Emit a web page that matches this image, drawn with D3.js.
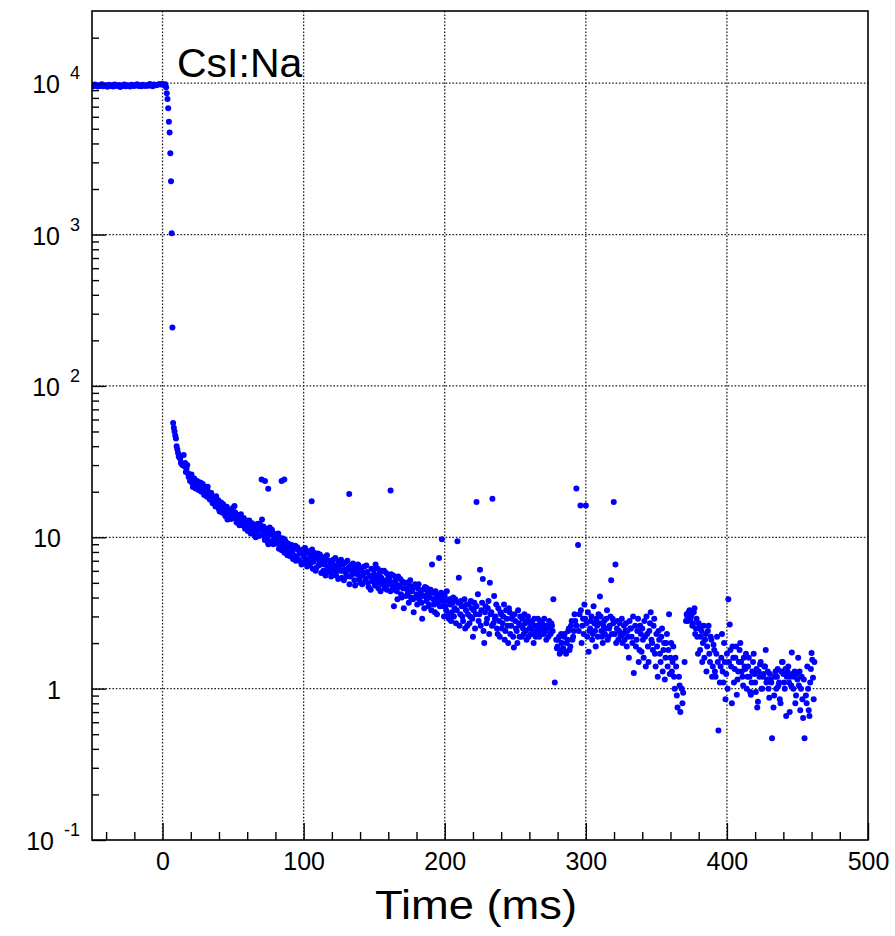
<!DOCTYPE html>
<html>
<head>
<meta charset="utf-8">
<script src="https://cdn.jsdelivr.net/npm/d3@7"></script>
<style>
    body { margin: 0; background: #fff; }
    #chart-area { width: 895px; height: 936px; }
    text { font-family: "Liberation Sans", Arial, sans-serif; }
</style>
</head>
<body>
<div id="chart-area"></div>
<script>

// --- data: [time (ms), counts] ---
let plateauPoints = [[-50,9700],[-49,9550],[-48,9800],[-47,9650],[-46,9500],[-45,9750],[-44,9600],[-43,9850],[-42,9550],[-41,9700],
    [-40,9620],[-39,9480],[-38,9780],[-37,9600],[-36,9700],[-35,9520],[-34,9820],[-33,9650],[-32,9580],[-31,9720],
    [-30,9450],[-29,9680],[-28,9600],[-27,9800],[-26,9550],[-25,9700],[-24,9620],[-23,9500],[-22,9760],[-21,9650],
    [-20,9580],[-19,9720],[-18,9850],[-17,9600],[-16,9700],[-15,9550],[-14,9780],[-13,9660],[-12,9590],[-11,9740],
    [-10,9620],[-9,9880],[-8,9700],[-7,9560],[-6,9800],[-5,9680],[-4,9750],[-3,9800],[-2,9900],[-1,9820],
    [0,9900],[1,9750],[2,9850]];

let dropPoints = [[2.5,9400],[3,8570],[3.5,7860],[4,6830],[4.5,5560],[5,4730],[5.5,3440],[6,2250],[6.5,1020],[7,243]];

let tailPoints = [[7.5,57],[8,53],[8.5,50],[9,47],[9.5,45],[10,40],[10.5,38],[11,36],[11.5,34],[12,34.5],
    [12.5,33],[13,31],[14,30],[15,35],[15.5,29.5],[16,31],[17,28.5],[18,26.5],[19,26],[19.5,23.5],
    [20,24.5],[21,22.8],[22,22.3],[23,23],[24,21.8],[25,22.3],[26,21.5],[27,22.9],[28,20.7],[29,21.2],
    [30,20.2],[31,19.2],[32,21.6],[33,19],[34,18.7],[35,17.8],[36,17.3],[37,18.3],[38,18.7],[38.5,16.5],
    [39,16.9],[40,15.3],[41,16.1],[42,15.3],[43,16.5],[44,15.7],[45,14.9],[46,13.1],[46.5,14.2],[47,13.5],
    [48,14.6],[49,14.2],[50,15.7],[51,16.1],[52,13.5],[53,12.8],[54,12.5],[55,13.5],[56,12.5],[57,12.2],
    [58,12.8],[59,11.6],[60,11.8],[61,12.5],[62,11.3],[63,12.2],[64,11.6],[65,11.3],[66,10],[67,11],
    [68,11.6],[69,12.2],[70,11.3],[70.5,13.1],[71,10.7],[72,10.2],[73,11.4],[74,10],[75,9],[76,11.6],
    [77,10.4],[78,10.8],[79,9.7],[80,10.2],[81,9.4],[82,10.6],[83,8.9],[84,9.8],[85,9.2],[86,8.7],
    [87,9.5],[88,8.4],[89,9.1],[90,7.9],[91,8.6],[92,8.1],[93,7.6],[94,8.8],[95,7.4],[96,8.3],
    [97,7.8],[98,6.9],[99,8.0],[100,7.5],[101,8.5],[102,7.2],[103,7.9],[104,6.8],[105,7.6],[106,8.3],
    [107,6.9],[108,7.3],[109,6.3],[110,7.8],[111,7.0],[112,6.6],[113,7.4],[114,6.0],[115,6.9],[116,7.2],
    [117,6.4],[118,5.9],[119,6.8],[120,6.2],[121,7.1],[122,6.5],[123,5.6],[124,6.3],[125,6.9],[126,6.0],
    [127,5.4],[128,6.6],[129,6.1],[130,5.8],[131,7.0],[132,6.3],[133,5.5],[134,6.0],[135,6.7],[136,5.2],
    [137,6.2],[138,5.7],[139,6.5],[140,5.0],[141,6.0],[142,5.6],[143,6.4],[144,5.3],[145,5.9],[146,4.7],
    [147,5.6],[148,6.2],[149,5.1],[150,5.7],[151,6.6],[152,5.2],[153,4.6],[154,5.8],[155,5.4],[156,4.9],
    [157,6.0],[158,5.1],[159,4.5],[160,5.5],[161,5.0],[162,5.7],[163,4.7],[164,3.5],[165,5.2],[166,4.4],
    [167,5.5],[168,4.8],[169,4.2],[170,5.1],[171,3.4],[172,4.6],[173,5.0],[174,4.3],[175,4.8],[176,4.0],
    [177,4.5],[178,3.2],[179,4.9],[180,4.2],[181,4.6],[182,3.9],[183,4.4],[184,2.9],[185,4.1],[186,4.7],
    [187,3.8],[188,4.3],[189,3.6],[190,4.5],[191,6.6],[192,3.9],[193,3.2],[194,4.2],[195,3.7],[196,7.3],
    [197,4.0],[198,9.7],[199,3.5],[200,4.1],[201,3.3],[202,3.8],[203,2.9],[204,3.6],[205,3.2],[206,4.0],
    [207,3.4],[208,2.7],[209,9.4],[209.5,3.7],[210,5.4],[211,3.1],[212,3.5],[213,2.8],[214,3.9],[215,3.3],
    [216,2.6],[217,3.6],[218,3.0],[219,3.4],[220,2.2],[221,3.7],[222,3.1],[223.5,4.2],[224,2.8],[225,6.1],
    [226,3.3],[227,5.3],[228,2.0],[229,3.5],[230,2.9],[231,3.8],[232,5.0],[233,3.2],[234.5,2.7],[235,4.1],
    [236,3.0],[237,2.5],[238,3.4],[239,2.2],[240,3.1],[241,2.7],[242,3.6],[243,2.4],[244,2.9],[245,2.0],
    [246,3.2],[247,2.6],[248,3.0],[249,1.87],[250,2.8],[251,2.4],[252,3.3],[253,2.2],[254,2.6],[255,2.9],
    [256,2.3],[257,2.7],[258,2.1],[259,3.0],[260,2.5],[261,2.3],[262,2.8],[263,2.0],[264,2.6],[265,2.4],
    [266,2.9],[267,2.2],[268,2.5],[269,2.7],[270,2.3],[271,2.6],[272,2.1],[273,2.5],[274,2.8],[275,2.3],
    [276,2.6],[277,3.9],[278,1.1],[279,2.1],[280,1.9],[281,2.2],[282,1.75],[283,2.0],[284,1.85],[285,2.3],
    [286,1.7],[287,2.1],[288,2.5],[289,1.9],[290,2.8],[291,2.2],[292,3.1],[293.5,2.6],[295,2.4],[296.5,3.3],
    [297,2.0],[298,2.9],[299,3.6],[300.5,2.7],[301,2.2],[302,1.75],[303,2.5],[304,3.0],[305,2.3],[306,2.7],
    [307,1.9],[308,2.6],[309,3.1],[310,4.07],[311,2.4],[312,2.0],[313,2.8],[314,2.5],[315,3.3],[316,2.2],
    [317,2.6],[318,5.2],[319,2.9],[320.5,2.3],[321,6.6],[322,2.5],[323,2.1],[324,2.7],[325,2.3],[326,2.0],
    [327,2.6],[328,2.4],[329,1.9],[330,2.2],[331,2.8],[332,2.5],[333,2.0],[334,1.27],[335,2.6],[336,2.1],
    [337,2.9],[338,1.8],[339,2.3],[340,2.5],[341,1.6],[342,2.2],[343,3.0],[344,1.9],[345,2.4],[346,3.2],
    [347,2.0],[348,2.6],[349,1.7],[350,2.3],[351,1.2],[352,2.1],[353,1.5],[354,2.5],[355,1.8],[356,1.15],
    [357,2.0],[358,1.4],[359,3.1],[360,1.6],[361,1.3],[362,1.9],[363,1.0],[364,1.4],[365,0.75],[366,1.2],
    [367,0.70],[368,1.0],[369,0.94],[370,1.5],[371,2.8],[372,3.0],[373,3.2],[374,2.9],[375,3.1],[376,2.7],
    [377,3.4],[378,2.5],[379,2.2],[380,2.7],[381,1.8],[382,2.4],[383,2.0],[384,1.6],[385,2.3],[386,1.9],
    [387,2.6],[388,1.5],[389,2.1],[390,1.4],[391,1.8],[392,1.2],[393,2.2],[394,0.53],[395,1.1],[396,1.6],
    [397,1.3],[398,2.0],[399,0.85],[400,1.7],[401,3.9],[402,2.65],[403,1.4],[404,1.9],[405,1.1],[406,1.6],
    [407,0.91],[408,1.3],[409,1.8],[410,1.5],[411,1.2],[412,1.6],[413,1.35],[414,1.0],[415,1.4],[416,1.2],
    [417,0.91],[418,1.3],[419,1.7],[420,1.1],[421,1.35],[422,0.82],[423,1.2],[424,1.5],[425,1.0],[426,1.25],
    [427,1.4],[428,1.1],[429,1.3],[430,0.87],[431,1.15],[432,0.47],[433,0.75],[434,1.2],[435,1.0],[436,1.35],
    [437,1.1],[438,0.8],[439,1.5],[440,1.25],[441,1.0],[442,0.66],[443,1.3],[444,1.1],[445,1.2],[446,1.73],
    [447,1.0],[448,1.3],[449,0.9],[450,1.15],[451,1.05],[452,0.72],[453,1.2],[454,0.64],[455,0.47],[456,0.9],
    [457,1.4],[458,0.72],[459,1.1],[460,1.72],[461,1.18],[462,1.5]];

// second pass over the band (the in-between bins), it is twice as dense as one row of dots
let tailPointsB = [[16.5,27],[17.5,30],[18.5,25],[20.5,26],[21.5,21.5],[22.5,24.5],[23.5,21],[24.5,23.5],[25.5,20.5],[26.5,23],
    [27.5,20],[28.5,22.5],[29.5,19],[30.5,21.5],[31.5,18.5],[32.5,20],[33.5,17.8],[34.5,19.6],[35.5,16.8],[36.5,18.5],
    [37.5,16],[39.5,17.6],[40.5,14.8],[41.5,17],[42.5,14.5],[43.5,15.9],[44.5,13.8],[45.5,15.9],[47.5,15.2],[48.5,13.2],
    [49.5,15],[50.5,13.4],[51.5,14.6],[52.5,12.5],[53.5,14],[54.5,12],[55.5,14.2],[56.5,12],[57.5,13.4],[58.5,11.4],
    [59.5,12.9],[60.5,11],[61.5,12.9],[62.5,10.6],[63.5,12.4],[64.5,10.5],[65.5,12],[66.5,10.3],[67.5,12.3],[68.5,10.2],
    [69.5,11.8],[71.5,11.8],[72.5,9.6],[73.5,10.9],[74.5,9.3],[75.5,10.8],[76.5,9.4],[77.5,11.2],[78.5,9.0],[79.5,10.5],
    [80.5,9.1],[81.5,10.3],[82.5,8.4],[83.5,9.9],[84.5,8.2],[85.5,9.8],[86.5,7.9],[87.5,9.0],[88.5,7.6],[89.5,8.8],
    [90.5,7.5],[91.5,8.9],[92.5,7.2],[93.5,8.4],[94.5,7.0],[95.5,8.6],[96.5,7.1],[97.5,8.2],[98.5,6.6],[99.5,8.3],
    [100.5,6.8],[101.5,7.9],[102.5,6.4],[103.5,8.1],[104.5,6.6],[105.5,7.2],[106.5,6.2],[107.5,7.9],[108.5,6.0],[109.5,7.4],
    [110.5,6.5],[111.5,7.7],[112.5,5.8],[113.5,6.9],[114.5,6.6],[115.5,5.6],[116.5,7.6],[117.5,6.1],[118.5,7.0],[119.5,5.5],
    [120.5,6.7],[121.5,5.8],[122.5,7.3],[123.5,6.0],[124.5,5.3],[125.5,6.5],[126.5,7.1],[127.5,6.0],[128.5,5.2],[129.5,6.8],
    [130.5,5.5],[131.5,6.2],[132.5,4.9],[133.5,6.5],[134.5,5.7],[135.5,6.3],[136.5,4.8],[137.5,5.9],[138.5,6.6],[139.5,5.3],
    [140.5,6.2],[141.5,4.9],[142.5,5.8],[143.5,5.1],[144.5,6.5],[145.5,5.0],[146.5,5.5],[147.5,4.5],[148.5,5.4],[149.5,6.1],
    [150.5,4.8],[151.5,5.5],[152.5,6.2],[153.5,5.0],[154.5,4.4],[155.5,6.0],[156.5,5.2],[157.5,4.6],[158.5,5.8],[159.5,4.9],
    [160.5,5.3],[161.5,4.4],[162.5,5.0],[163.5,5.6],[164.5,4.5],[165.5,4.9],[166.5,3.9],[167.5,4.7],[168.5,5.3],[169.5,4.0],
    [170.5,4.6],[171.5,5.0],[172.5,4.1],[173.5,4.5],[174.5,3.7],[175.5,5.2],[176.5,4.4],[177.5,3.9],[178.5,4.7],[179.5,4.0],
    [180.5,3.6],[181.5,4.9],[182.5,4.2],[183.5,3.7],[184.5,4.5],[185.5,3.4],[186.5,4.1],[187.5,4.6],[188.5,3.5],[189.5,4.0],
    [190.5,3.3],[191.5,4.3],[192.5,3.6],[193.5,4.4],[194.5,3.1],[195.5,4.0],[196.5,3.5],[197.5,4.3],[198.5,3.8],[199.5,3.0],
    [200.5,3.5],[201.5,4.4],[202.5,3.1],[203.5,3.9],[204.5,2.8],[205.5,3.7],[206.5,3.0],[207.5,3.9],[208.5,3.3],[210.5,2.6],
    [211.5,3.8],[212.5,3.0],[213.5,3.5],[214.5,2.5],[215.5,3.6],[216.5,3.1],[217.5,2.7],[218.5,3.8],[219.5,2.9],[220.5,3.3],
    [221.5,2.5],[222.5,3.5],[224.5,3.1],[225.5,2.6],[226.5,3.7],[227.5,2.4],[228.5,3.2],[229.5,2.7],[230.5,3.4],[231.5,2.3],
    [232.5,3.1],[233.5,2.6],[235.5,2.9],[236.5,3.6],[237.5,2.3],[238.5,2.8],[239.5,3.2],[240.5,2.5],[241.5,3.0],[242.5,2.1],
    [243.5,3.3],[244.5,2.6],[245.5,3.4],[246.5,2.3],[247.5,2.9],[248.5,2.2],[249.5,3.1],[250.5,2.5],[251.5,2.0],[252.5,2.7],
    [253.5,3.0],[254.5,2.2],[255.5,2.5],[256.5,3.1],[257.5,2.4],[258.5,2.8],[259.5,2.2],[260.5,2.7],[261.5,2.5],[262.5,2.3],
    [263.5,2.9],[264.5,2.2],[265.5,2.6],[266.5,2.4],[267.5,2.8],[268.5,2.3],[269.5,2.5],[270.5,2.9],[271.5,2.4],[272.5,2.6],
    [273.5,2.2],[274.5,2.5],[275.5,2.7],[276.5,2.4],[279.5,1.85],[280.5,2.1],[281.5,1.7],[282.5,2.3],[283.5,1.8],[284.5,2.2],
    [285.5,1.75],[286.5,2.0],[287.5,2.4],[288.5,1.8],[289.5,2.6],[290.5,2.1],[291.5,2.4],[292.5,2.8],[295.5,3.1],[297.5,2.6],
    [298.5,2.3],[299.5,2.9],[301.5,3.2],[302.5,2.4],[303.5,2.8],[304.5,2.1],[305.5,3.5],[306.5,2.4],[307.5,2.9],[308.5,2.2],
    [309.5,2.7],[310.5,3.0],[311.5,2.2],[312.5,2.6],[313.5,2.3],[314.5,2.9],[315.5,2.1],[316.5,2.5],[317.5,3.0],[318.5,2.3],
    [319.5,2.7],[321.5,2.0],[322.5,2.8],[323.5,2.4],[324.5,2.2],[325.5,2.9],[326.5,2.3],[327.5,2.1],[328.5,2.7],[329.5,2.4],
    [330.5,1.6],[331.5,2.5],[332.5,2.2],[333.5,3.0],[335.5,1.9],[336.5,2.4],[337.5,1.5],[338.5,2.6],[339.5,1.75],[340.5,2.1],
    [341.5,2.8],[342.5,1.4],[343.5,2.3],[344.5,1.5],[345.5,2.7],[346.5,2.1],[347.5,1.8],[348.5,2.9],[349.5,1.4],[350.5,1.9],
    [351.5,2.4],[352.5,1.7],[353.5,2.2],[354.5,1.3],[355.5,2.0],[356.5,1.6],[357.5,2.3],[358.5,1.8],[359.5,1.25],[360.5,2.0],
    [361.5,1.5],[362.5,1.2],[363.5,1.6],[364.5,0.9],[366.5,1.05],[368.5,0.8],[371.5,3.1],
    [372.5,2.8],[373.5,3.3],[374.5,3.0],[375.5,2.6],[376.5,3.2],[377.5,2.3],[378.5,2.9],[379.5,1.7],[380.5,2.5],[381.5,2.2],
    [382.5,1.5],[383.5,2.6],[384.5,2.1],[385.5,1.3],[386.5,2.4],[387.5,1.7],[388.5,2.2],[389.5,1.2],[390.5,1.95],[391.5,1.3],
    [392.5,1.7],[393.5,1.5],[395.5,1.4],[396.5,2.3],[397.5,1.1],[398.5,1.5],[399.5,1.25],[400.5,1.0],[401.5,1.5],[402.5,1.8],
    [403.5,0.8],[404.5,1.6],[405.5,1.35],[406.5,1.9],[407.5,1.15],[408.5,1.5],[409.5,2.0],[410.5,1.3],[411.5,1.05],[412.5,1.4],
    [413.5,1.7],[414.5,1.2],[415.5,1.6],[416.5,0.95],[417.5,1.1],[418.5,1.5],[419.5,1.25],[420.5,0.95],[421.5,0.75],[422.5,1.3],
    [423.5,1.45],[424.5,1.0],[425.5,1.2],[426.5,1.4],[427.5,1.8],[428.5,1.15],[429.5,1.0],[430.5,1.25],[431.5,1.1],[433.5,0.9],
    [434.5,1.3],[435.5,1.2],[436.5,1.05],[437.5,0.85],[438.5,1.3],[439.5,1.5],[440.5,1.1],[441.5,1.35],[442.5,1.2],[443.5,1.4],
    [444.5,0.7],[445.5,1.05],[446.5,1.25],[447.5,1.2],[448.5,0.8],[449.5,1.25],[450.5,1.6],[451.5,1.3],[452.5,1.0],[453.5,0.85],
    [454.5,1.15],[456.5,0.8],[457.5,1.0],[458.5,0.66],[459.5,1.35],[460.5,1.55],[461.5,0.85]];

// isolated points sitting well above the band
let strayPoints = [[70.2,24.1],[72.6,23.5],[74.9,20.9],[84.4,23.5],[86.3,24.1],[105.7,17.3],[132.3,19.3],
    [161.6,20.4],[222.5,17.1],[233.8,18.0],[293.3,21],[294.5,8.9],[296.2,16.2],[300,16.2],[319.8,17.1]];

let xMajorTicks = [0, 100, 200, 300, 400, 500];
let xMinorTicks = [-40, -20, 20, 40, 60, 80, 120, 140, 160, 180, 220, 240, 260, 280,
    320, 340, 360, 380, 420, 440, 460, 480];
let yDecades = [0.1, 1, 10, 100, 1000, 10000];
let yLabelBase = ["10", "1", "10", "10", "10", "10"];
let yLabelExp = ["-1", "", "", "2", "3", "4"];

let titleText = "CsI:Na";
let xTitleText = "Time (ms)";


class DecayPlot {

    constructor(parentElement) {
        this.parentElement = parentElement;
    }

    initVis() {
        let vis = this;

        vis.margin = {top: 11, right: 27, bottom: 96, left: 92};
        vis.width = 895 - vis.margin.left - vis.margin.right;
        vis.height = 936 - vis.margin.top - vis.margin.bottom;

        vis.svg = d3.select("#" + vis.parentElement).append("svg")
            .attr("width", 895)
            .attr("height", 936)
            .append("g")
            .attr("transform", `translate(${vis.margin.left}, ${vis.margin.top})`);

        vis.svg.append("clipPath")
            .attr("id", "plot-clip")
            .append("rect")
            .attr("width", vis.width)
            .attr("height", vis.height);

        // Scales
        vis.x = d3.scaleLinear()
            .domain([-50, 500])
            .range([0, vis.width]);
        vis.y = d3.scaleLog()
            .domain([0.1, 30000])
            .range([vis.height, 0]);

        // minor log ticks 2..9 of every decade, plus 2e4 / 3e4 at the top
        vis.yMinorTicks = [];
        yDecades.forEach(function(d) {
            for (let k = 2; k <= 9; k++) vis.yMinorTicks.push(d * k);
        });
        vis.yMinorTicks = vis.yMinorTicks.filter(function(d) { return d < 30000; });

        vis.wrangleData();
    }

    wrangleData() {
        let vis = this;

        vis.points = plateauPoints.concat(dropPoints, tailPoints, tailPointsB, strayPoints);

        vis.updateVis();
    }

    updateVis() {
        let vis = this;

        // Grid
        vis.svg.append("g")
            .attr("class", "grid")
            .selectAll("line.vgrid")
            .data(xMajorTicks.filter(function(d) { return d < 500; }))
            .enter().append("line")
            .attr("x1", function(d) { return vis.x(d); })
            .attr("x2", function(d) { return vis.x(d); })
            .attr("y1", 0)
            .attr("y2", vis.height)
            .attr("stroke", "#222")
            .attr("stroke-width", 1.3)
            .attr("stroke-dasharray", "1.6,1.8");
        vis.svg.append("g")
            .attr("class", "grid")
            .selectAll("line.hgrid")
            .data(yDecades.filter(function(d) { return d > 0.1; }))
            .enter().append("line")
            .attr("x1", 0)
            .attr("x2", vis.width)
            .attr("y1", function(d) { return vis.y(d); })
            .attr("y2", function(d) { return vis.y(d); })
            .attr("stroke", "#222")
            .attr("stroke-width", 1.3)
            .attr("stroke-dasharray", "1.6,1.8");

        // Markers
        vis.svg.append("g")
            .attr("clip-path", "url(#plot-clip)")
            .selectAll("circle")
            .data(vis.points)
            .enter().append("circle")
            .attr("cx", function(d) { return vis.x(d[0]); })
            .attr("cy", function(d) { return vis.y(d[1]); })
            .attr("r", 3)
            .attr("fill", "#0000ff");

        // Frame
        vis.svg.append("rect")
            .attr("width", vis.width)
            .attr("height", vis.height)
            .attr("fill", "none")
            .attr("stroke", "#000")
            .attr("stroke-width", 1.6);

        // X ticks (drawn inward) and labels
        vis.svg.append("g")
            .attr("class", "x-major")
            .attr("transform", "translate(0," + vis.height + ")")
            .call(d3.axisTop(vis.x).tickValues(xMajorTicks).tickSize(17).tickFormat(""));
        vis.svg.append("g")
            .attr("class", "x-minor")
            .attr("transform", "translate(0," + vis.height + ")")
            .call(d3.axisTop(vis.x).tickValues(xMinorTicks).tickSize(8).tickFormat(""));
        vis.svg.append("g")
            .attr("class", "x-labels")
            .attr("transform", "translate(0," + vis.height + ")")
            .call(d3.axisBottom(vis.x).tickValues(xMajorTicks).tickSize(0).tickPadding(12).tickFormat(d3.format("d")));

        // Y ticks (drawn inward)
        vis.svg.append("g")
            .attr("class", "y-major")
            .call(d3.axisRight(vis.y).tickValues(yDecades).tickSize(14).tickFormat(""));
        vis.svg.append("g")
            .attr("class", "y-minor")
            .call(d3.axisRight(vis.y).tickValues(vis.yMinorTicks).tickSize(7).tickFormat(""));

        vis.svg.selectAll(".x-major path, .x-minor path, .x-labels path, .y-major path, .y-minor path").remove();
        vis.svg.selectAll(".x-major line, .x-minor line, .y-major line, .y-minor line")
            .attr("stroke", "#000")
            .attr("stroke-width", 1.4);
        vis.svg.selectAll(".x-labels text")
            .attr("fill", "#000")
            .style("font-size", "25px");

        // Y labels: 10 with a raised exponent
        let yLabels = vis.svg.append("g")
            .attr("class", "y-labels")
            .selectAll("text")
            .data(yDecades)
            .enter().append("text")
            .attr("text-anchor", "end")
            .attr("x", function(d, i) { return yLabelExp[i] ? 80 - vis.margin.left : 61 - vis.margin.left; })
            .attr("y", function(d) { return vis.y(d) + 10; })
            .style("font-size", "25px");
        yLabels.append("tspan")
            .text(function(d, i) { return yLabelBase[i]; });
        yLabels.filter(function(d, i) { return yLabelExp[i] !== ""; })
            .append("tspan")
            .attr("dx", 10)
            .attr("dy", -14)
            .style("font-size", "18px")
            .text(function(d) { return yLabelExp[yDecades.indexOf(d)]; });

        // Titles
        vis.svg.append("text")
            .text(titleText)
            .attr("x", 177 - vis.margin.left)
            .attr("y", 77 - vis.margin.top)
            .style("font-size", "41px");
        vis.svg.append("text")
            .text(xTitleText)
            .attr("x", 476 - vis.margin.left)
            .attr("y", 919 - vis.margin.top)
            .attr("text-anchor", "middle")
            .attr("textLength", 202)
            .attr("lengthAdjust", "spacingAndGlyphs")
            .style("font-size", "41px");
    }
}

let plot = new DecayPlot("chart-area");
plot.initVis();

</script>
</body>
</html>
